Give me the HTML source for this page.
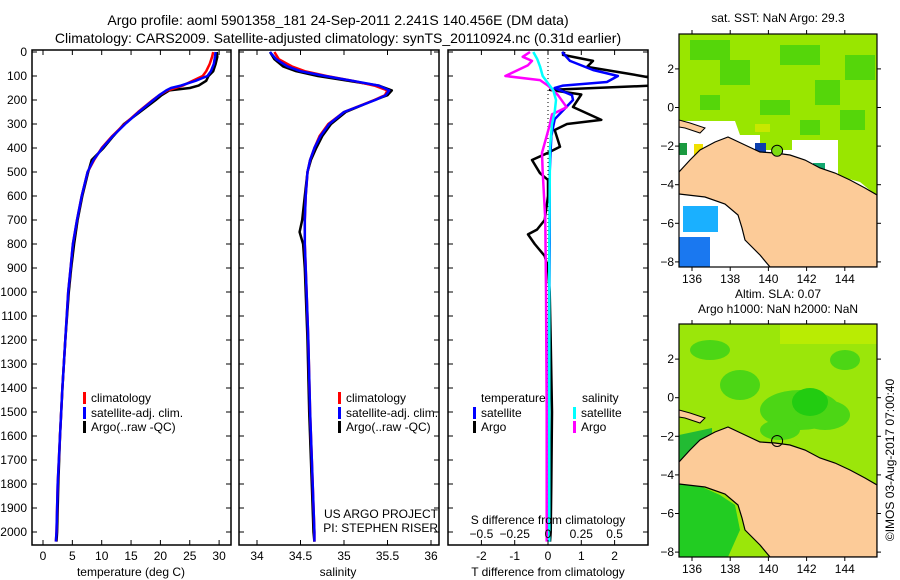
<!DOCTYPE html>
<html><head><meta charset="utf-8"><style>
html,body{margin:0;padding:0;background:#fff;}
svg{display:block;font-family:"Liberation Sans",Arial,sans-serif;}
</style></head><body>
<svg id="fig" width="900" height="580" viewBox="0 0 900 580" xmlns="http://www.w3.org/2000/svg">
<text x="338" y="25" font-size="14" text-anchor="middle">Argo profile: aoml 5901358_181 24-Sep-2011 2.241S 140.456E (DM data)</text>
<text x="338" y="43" font-size="14" text-anchor="middle">Climatology: CARS2009. Satellite-adjusted climatology: synTS_20110924.nc (0.31d earlier)</text>
<g id="p1"></g>
<g id="p2"></g>
<g id="p3"></g>
<g id="m1"></g>
<g id="m2"></g>
<text transform="translate(894,460) rotate(-90)" font-size="12" text-anchor="middle">©IMOS 03-Aug-2017 07:00:40</text>
</svg>
<script>
// ---------- data ----------
const depthTicks = [0,100,200,300,400,500,600,700,800,900,1000,1100,1200,1300,1400,1500,1600,1700,1800,1900,2000];
const tempTicks = [0,5,10,15,20,25,30];
const salTicks = [34,34.5,35,35.5,36];
const tdiffTicks = [-2,-1,0,1,2];
const sdiffTicks = [-0.5,-0.25,0,0.25,0.5];

const depthT = [0,20,50,80,100,120,140,150,160,180,200,250,300,350,400,450,500,600,700,800,900,1000,1200,1400,1600,1800,2000,2040];
const argoT = [29.6,29.7,29.4,29.0,28.2,27.8,26.5,25.0,21.5,20.2,19.2,16.5,13.8,12.0,10.3,8.3,7.7,6.7,5.9,5.3,4.8,4.4,3.8,3.3,2.9,2.6,2.4,2.3];
const climT = [29.0,28.8,28.4,27.8,27.2,25.5,23.8,22.5,21.2,19.8,18.7,16.2,13.9,11.8,10.0,8.7,7.6,6.6,5.8,5.1,4.7,4.3,3.8,3.3,2.9,2.5,2.3,2.2];
const satT = [29.4,29.3,29.1,28.6,28.0,26.0,23.5,21.8,21.0,19.8,18.8,16.3,14.0,11.9,10.1,8.6,7.6,6.6,5.8,5.1,4.7,4.3,3.8,3.3,2.9,2.5,2.3,2.2];

const depthS = [0,30,60,80,100,120,140,160,180,200,250,300,350,400,450,500,600,700,750,800,900,1000,1200,1500,1800,2000,2040];
const argoS = [34.15,34.2,34.3,34.45,34.7,35.05,35.4,35.55,35.5,35.35,35.02,34.85,34.75,34.68,34.62,34.58,34.55,34.52,34.49,34.53,34.55,34.56,34.58,34.6,34.63,34.65,34.66];
const climS = [34.2,34.25,34.4,34.55,34.8,35.1,35.35,35.5,35.47,35.35,35.0,34.82,34.72,34.66,34.61,34.58,34.56,34.55,34.55,34.55,34.56,34.57,34.59,34.61,34.64,34.66,34.66];
const satS = [34.15,34.22,34.35,34.5,34.78,35.1,35.4,35.52,35.48,35.36,35.0,34.83,34.73,34.66,34.61,34.58,34.56,34.55,34.55,34.55,34.56,34.57,34.59,34.61,34.64,34.66,34.66];

const depthDT = [0,12,37,62,90,117,138,158,177,229,283,300,325,395,420,450,505,533,600,700,740,760,800,850,900,1000,1200,1500,1800,2000,2040];
const argoDT = [0.5,0.45,1.35,1.17,2.4,3.5,3.5,0.06,1.0,0.75,1.6,0.57,0.2,0.36,0.0,-0.48,-0.24,0.0,0.0,-0.1,-0.33,-0.6,-0.4,-0.1,0.0,0.05,0.08,0.12,0.1,0.08,0.06];
const depthSatDT = [0,37,75,100,125,140,150,180,200,280,350,500,800,1200,1600,2040];
const satDT = [0.42,0.66,1.35,2.1,1.77,0.45,0.2,0.72,0.75,0.2,0.1,0.05,0.05,0.03,0.03,0.03];
const depthDS = [0,20,37,55,100,117,140,180,230,260,300,420,500,700,1000,1500,2040];
const argoDS = [-0.135,-0.19,-0.12,-0.15,-0.32,-0.06,0.0,0.075,0.14,0.03,0.015,-0.045,-0.04,-0.02,-0.015,-0.01,-0.01];
const depthSatDS = [0,30,60,100,130,160,200,250,300,400,800,2040];
const satDS = [-0.11,-0.08,-0.06,-0.04,0.0,0.04,0.06,0.05,0.03,0.015,0.01,0.01];

// ---------- helpers ----------
const NS="http://www.w3.org/2000/svg";
function mk(parent,tag,attrs){const e=document.createElementNS(NS,tag);for(const k in attrs)e.setAttribute(k,attrs[k]);parent.appendChild(e);return e;}
const yD = d => 52 + d*0.24;
const PT=50, PB=545;

function panel(g,x0,x1,xs,ticks,labels,showY){
  for(const d of depthTicks){
    const y=yD(d);
    mk(g,'line',{x1:x0,y1:y,x2:x0+5,y2:y,stroke:'#000'});
    mk(g,'line',{x1:x1-5,y1:y,x2:x1,y2:y,stroke:'#000'});
    if(showY){const t=mk(g,'text',{x:x0-5,y:y+4,'font-size':12,'text-anchor':'end'});t.textContent=d;
      
      }
  }
  ticks.forEach((v,i)=>{
    const x=xs(v);
    mk(g,'line',{x1:x,y1:PB,x2:x,y2:PB-5,stroke:'#000'});
    mk(g,'line',{x1:x,y1:PT,x2:x,y2:PT+5,stroke:'#000'});
    const t=mk(g,'text',{x:x,y:PB+15,'font-size':12,'text-anchor':'middle'});t.textContent=labels[i];
    
    
  });
  const r=mk(g,'rect',{x:x0,y:PT,width:x1-x0,height:PB-PT,fill:'none',stroke:'#000','stroke-width':1.5});
  
  
}
function line(g,xs,vals,depths,color,name,w){
  const pts=vals.map((v,i)=>xs(v).toFixed(1)+','+yD(depths[i]).toFixed(1)).join(' ');
  const p=mk(g,'polyline',{points:pts,fill:'none',stroke:color,'stroke-width':w||2.5,'stroke-linejoin':'round'});
  
  
}
function txt(g,x,y,s,str,anchor,name){const t=mk(g,'text',{x:x,y:y,'font-size':s,'text-anchor':anchor||'start'});t.textContent=str;
  
  return t;}
function legend(g,x,y,color,label){
  const m=mk(g,'rect',{x:x,y:y-10,width:3,height:12,fill:color});
  
  
  txt(g,x+8,y,12,label,'start','legend-entry');
}

// ---------- panel 1 ----------
const g1=document.getElementById('p1');
const xT = v => 43 + v*5.87;
const clipDefs=mk(document.getElementById('fig'),'defs',{});
[['c1',32,231],['c2',239,439],['c3',448,648]].forEach(c=>{const cp=mk(clipDefs,'clipPath',{id:c[0]});mk(cp,'rect',{x:c[1],y:PT,width:c[2]-c[1],height:PB-PT});});
const g1l=mk(g1,'g',{'clip-path':'url(#c1)'});
line(g1l,xT,argoT,depthT,'#000','argo-temperature-line');
line(g1l,xT,climT,depthT,'#f00','climatology-temperature-line');
line(g1l,xT,satT,depthT,'#00f','satellite-temperature-line');
panel(g1,32,231,xT,tempTicks,tempTicks.map(String),true);
txt(g1,131,576,12,'temperature (deg C)','middle','x-axis-title');
legend(g1,83,402,'#f00','climatology');
legend(g1,83,417,'#00f','satellite-adj. clim.');
legend(g1,83,431,'#000','Argo(..raw -QC)');

// ---------- panel 2 ----------
const g2=document.getElementById('p2');
const xS = v => 257 + (v-34)*87;
const g2l=mk(g2,'g',{'clip-path':'url(#c2)'});
line(g2l,xS,argoS,depthS,'#000','argo-salinity-line');
line(g2l,xS,climS,depthS,'#f00','climatology-salinity-line');
line(g2l,xS,satS,depthS,'#00f','satellite-salinity-line');
panel(g2,239,439,xS,salTicks,salTicks.map(String),false);
txt(g2,338,576,12,'salinity','middle','x-axis-title');
legend(g2,338,402,'#f00','climatology');
legend(g2,338,417,'#00f','satellite-adj. clim.');
legend(g2,338,431,'#000','Argo(..raw -QC)');
txt(g2,438,518,12,'US ARGO PROJECT','end','project-label');
txt(g2,438,532,12,'PI: STEPHEN RISER','end','pi-label');

// ---------- panel 3 ----------
const g3=document.getElementById('p3');
const xDT = v => 548 + v*33.3;
const xDS = v => 548 + v*133.2;
const g3l=mk(g3,'g',{'clip-path':'url(#c3)'});
mk(g3l,'line',{x1:548,y1:PT,x2:548,y2:PB,stroke:'#000','stroke-dasharray':'1,3'});
line(g3l,xDT,argoDT,depthDT,'#000','argo-t-diff-line');
line(g3l,xDT,satDT,depthSatDT,'#00f','satellite-t-diff-line');
line(g3l,xDS,argoDS,depthDS,'#f0f','argo-s-diff-line');
line(g3l,xDS,satDS,depthSatDS,'#0ff','satellite-s-diff-line');
panel(g3,448,648,xDT,tdiffTicks,tdiffTicks.map(String),false);
sdiffTicks.forEach(v=>txt(g3,xDS(v),538,12,String(v).replace('-','−'),'middle','s-diff-tick-label'));
txt(g3,548,524,12,'S difference from climatology','middle','s-axis-title');
txt(g3,548,576,12,'T difference from climatology','middle','x-axis-title');
txt(g3,481,402,12,'temperature','start','legend-header');
txt(g3,582,402,12,'salinity','start','legend-header');
legend(g3,473,417,'#00f','satellite');
legend(g3,473,431,'#000','Argo');
legend(g3,573,417,'#0ff','satellite');
legend(g3,573,431,'#f0f','Argo');

// ---------- maps ----------
const lonTicks=[136,138,140,142,144];
const latTicks=[2,0,-2,-4,-6,-8];
function map(g,y0,y1,lat0y,title1,title2,sst){
  const X0=679,X1=877;
  const lx=l=>692+(l-136)*19.1, ly=l=>lat0y-l*19.3;
  const cid='mc'+y0; const cp=mk(clipDefs,'clipPath',{id:cid});mk(cp,'rect',{x:X0,y:y0,width:X1-X0,height:y1-y0});
  const c=mk(g,'g',{'clip-path':'url(#'+cid+')'});
  const off=y0-34;
  const P=a=>a.map(p=>p[0]+','+(p[1]+off)).join(' ');
  mk(c,'rect',{x:X0,y:y0,width:X1-X0,height:y1-y0,fill:'#fff'});
  if(sst){
    mk(c,'polygon',{points:P([[679,34],[877,34],[877,196],[860,182],[838,176],[838,140],[792,140],[792,150],[760,150],[760,135],[740,135],[735,121],[679,121]]),fill:'#99e600'});
    const dk=[[690,40,40,20],[720,60,30,25],[780,45,40,20],[815,80,25,25],[845,55,30,25],[700,95,20,15],[760,100,30,15],[840,110,25,20],[800,120,20,15]];
    dk.forEach(r=>mk(c,'rect',{x:r[0],y:r[1]+off,width:r[2],height:r[3],fill:'#55d60a'}));
    mk(c,'rect',{x:755,y:124,width:15,height:8,fill:'#c8e800'});
    mk(c,'rect',{x:755,y:143,width:11,height:9,fill:'#0b3fae'});
    mk(c,'rect',{x:813,y:163,width:12,height:7,fill:'#12a870'});
    mk(c,'rect',{x:679,y:143,width:8,height:12,fill:'#1a9a40'});
    mk(c,'rect',{x:694,y:144,width:9,height:12,fill:'#f0e000'});
    mk(c,'rect',{x:683,y:206,width:35,height:26,fill:'#1ab0ff'});
    mk(c,'rect',{x:679,y:237,width:31,height:30,fill:'#1a78f0'});
  } else {
    mk(c,'rect',{x:X0,y:y0,width:X1-X0,height:y1-y0,fill:'#9be60a'});
    const dk=[[760,390,80,40],[800,400,50,30],[720,370,40,30],[690,340,40,20],[830,350,30,20],[760,420,40,20]];
    dk.forEach(r=>mk(c,'ellipse',{cx:r[0]+r[2]/2,cy:r[1]+r[3]/2,rx:r[2]/2,ry:r[3]/2,fill:'#4cd615'}));
    mk(c,'ellipse',{cx:810,cy:402,rx:18,ry:14,fill:'#22cc11'});
    mk(c,'rect',{x:780,y:324,width:97,height:20,fill:'#c6ee00',opacity:0.7});
    mk(c,'polygon',{points:P([[679,145],[712,138],[712,170],[679,180]]),fill:'#22bb33'});
    mk(c,'polygon',{points:P([[679,194],[700,196],[720,205],[735,215],[740,240],[728,267],[679,267]]),fill:'#22cc22'});
  }
  mk(c,'polygon',{points:P([[679,172],[690,160],[700,150],[715,142],[728,137],[745,145],[760,152],[775,153],[790,155],[805,160],[820,168],[835,173],[850,180],[865,188],[877,195],[877,267],[770,267],[760,255],[752,247],[745,240],[742,228],[738,215],[725,204],[705,197],[679,194]]),fill:'#fccb98',stroke:'#000','stroke-width':1.2});
  mk(c,'polygon',{points:P([[679,120],[690,123],[705,128],[700,133],[685,128],[679,127]]),fill:'#fccb98',stroke:'#000','stroke-width':1});
  mk(c,'circle',{cx:lx(140.456),cy:ly(-2.241),r:5.5,fill:sst?'#7ddc10':'none',stroke:'#000','stroke-width':1});
  mk(g,'rect',{x:X0,y:y0,width:X1-X0,height:y1-y0,fill:'none',stroke:'#000','stroke-width':1.2});
  lonTicks.forEach(l=>{const x=lx(l);mk(g,'line',{x1:x,y1:y1,x2:x,y2:y1+4,stroke:'#000'});mk(g,'line',{x1:x,y1:y0,x2:x,y2:y0-4,stroke:'#000'});
    txt(g,x,y1+16,12,String(l),'middle','map-lon-label');});
  latTicks.forEach(l=>{const y=ly(l);mk(g,'line',{x1:X0-4,y1:y,x2:X0,y2:y,stroke:'#000'});mk(g,'line',{x1:X1,y1:y,x2:X1+4,y2:y,stroke:'#000'});
    txt(g,X0-5,y+4,12,String(l).replace('-','−'),'end','map-lat-label');});
  txt(g,778,y0-(title2?26:12),12,title1,'middle','map-title');
  if(title2) txt(g,778,y0-11,12,title2,'middle','map-subtitle');
}
map(document.getElementById('m1'),34,267,107.5,'sat. SST: NaN Argo: 29.3',null,true);
map(document.getElementById('m2'),324,557,397.7,'Altim. SLA: 0.07','Argo h1000: NaN h2000: NaN',false);
</script>
</body></html>
